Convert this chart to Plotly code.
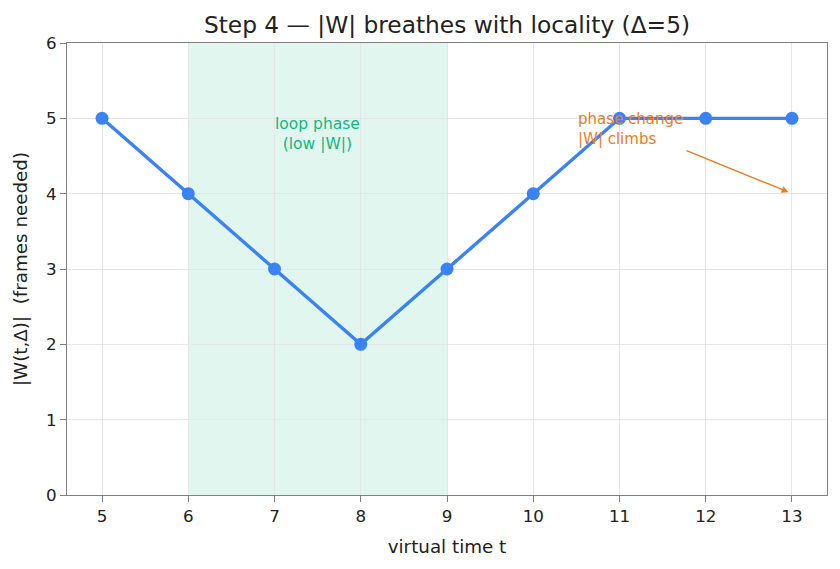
import plotly.graph_objects as go

t_values = [5, 6, 7, 8, 9, 10, 11, 12, 13]
w_size = [5, 4, 3, 2, 3, 4, 5, 5, 5]
loop_phase = [6, 9]
x_ticks = [5, 6, 7, 8, 9, 10, 11, 12, 13]
y_ticks = [0, 1, 2, 3, 4, 5, 6]

BLUE = "#3b82f6"
GREEN = "#10b981"
ORANGE = "#f07b1f"
FONT = "DejaVu Sans"
TXT = "#222222"

fig = go.Figure()

fig.add_vrect(x0=loop_phase[0], x1=loop_phase[1], fillcolor="rgba(16,185,129,0.13)",
              line_width=0, layer="below")

fig.add_trace(go.Scatter(
    x=t_values, y=w_size, mode="lines+markers",
    line=dict(color=BLUE, width=3.4),
    marker=dict(color=BLUE, size=13),
    showlegend=False,
))

fig.add_annotation(x=7.5, y=4.79, text="loop phase<br>(low |W|)", showarrow=False,
                   font=dict(family=FONT, size=15.5, color=GREEN), xanchor="center", yanchor="middle")

fig.add_annotation(x=10.5, y=5.14, text="phase change<br>|W| climbs", showarrow=False, align="left",
                   font=dict(family=FONT, size=15, color=ORANGE), xanchor="left", yanchor="top")

fig.add_annotation(x=12.96, y=4.02, ax=11.76, ay=4.58, xref="x", yref="y", axref="x", ayref="y",
                   text="", showarrow=True, arrowhead=2, arrowsize=1, arrowwidth=1.4,
                   arrowcolor=ORANGE)

axis_common = dict(showline=True, linecolor="#808080", linewidth=1.3, mirror=True,
                   ticks="outside", ticklen=6, tickcolor="#808080",
                   showgrid=True, gridcolor="#e6e6e6", gridwidth=1, zeroline=False,
                   tickfont=dict(family=FONT, size=16.7, color=TXT))

fig.update_xaxes(range=[4.594, 13.406], tickvals=x_ticks,
                 title=dict(text="virtual time t", font=dict(family=FONT, size=18.3, color=TXT), standoff=14),
                 **axis_common)
fig.update_yaxes(range=[0, 6], tickvals=y_ticks,
                 title=dict(text="|W(t,Δ)|  (frames needed)", font=dict(family=FONT, size=18.3, color=TXT), standoff=13),
                 **axis_common)

fig.update_layout(
    width=840, height=569,
    margin=dict(l=67, r=13, t=43, b=74),
    paper_bgcolor="white", plot_bgcolor="white",
    title=dict(text="Step 4 — |W| breathes with locality (Δ=5)", x=0.5, xanchor="center",
               y=1 - 25/569, yanchor="middle", xref="paper",
               font=dict(family=FONT, size=23.3, color=TXT)),
    font=dict(family=FONT),
)

fig.write_html("out.html")
